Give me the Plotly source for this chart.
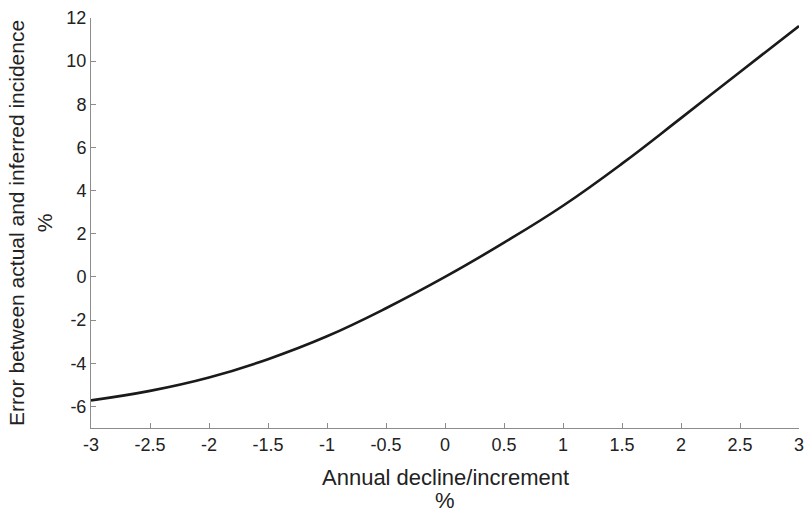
import plotly.graph_objects as go

# Annual decline/increment (%) and the resulting error (%)
rate = [-3.0, -2.5, -2.0, -1.5, -1.0, -0.5, 0.0, 0.5, 1.0, 1.5, 2.0, 2.5, 3.0]
error = [-5.72, -5.28, -4.66, -3.81, -2.75, -1.45, 0.0, 1.59, 3.30, 5.25, 7.36, 9.50, 11.63]

x_ticks = [-3, -2.5, -2, -1.5, -1, -0.5, 0, 0.5, 1, 1.5, 2, 2.5, 3]
x_labels = ["-3", "-2.5", "-2", "-1.5", "-1", "-0.5", "0", "0.5", "1", "1.5", "2", "2.5", "3"]
y_ticks = [-6, -4, -2, 0, 2, 4, 6, 8, 10, 12]
y_labels = ["-6", "-4", "-2", "0", "2", "4", "6", "8", "10", "12"]

x_title_lines = ["Annual decline/increment", "%"]
y_title = "Error between actual and inferred incidence<br>%"

FONT = "Liberation Sans, Arial, sans-serif"
TEXT_COLOR = "#222222"

fig = go.Figure(
    go.Scatter(
        x=rate,
        y=error,
        mode="lines",
        line=dict(color="#1a1a1a", width=2.6, shape="spline", smoothing=1.2),
        hoverinfo="x+y",
    )
)

axis_common = dict(
    showgrid=False,
    zeroline=False,
    showline=True,
    linecolor="#8c8c8c",
    linewidth=1,
    ticks="inside",
    ticklen=5,
    tickwidth=1,
    tickcolor="#8c8c8c",
    tickfont=dict(family=FONT, size=18, color=TEXT_COLOR),
    mirror=False,
)

fig.update_layout(
    width=810,
    height=512,
    margin=dict(l=91, r=6, t=18, b=84),
    paper_bgcolor="white",
    plot_bgcolor="white",
    showlegend=False,
    xaxis=dict(
        range=[-3, 3],
        tickvals=x_ticks,
        ticktext=x_labels,
        **axis_common,
    ),
    yaxis=dict(
        range=[-7, 12],
        tickvals=y_ticks,
        ticktext=y_labels,
        title=dict(
            text=y_title,
            font=dict(family=FONT, size=21, color=TEXT_COLOR),
            standoff=8,
        ),
        **axis_common,
    ),
)

# Two-line x-axis title, placed line by line for tighter spacing
for line_text, shift in zip(x_title_lines, [-49, -72]):
    fig.add_annotation(
        text=line_text,
        xref="paper",
        yref="paper",
        x=0.5,
        y=0,
        xanchor="center",
        yanchor="middle",
        yshift=shift,
        showarrow=False,
        font=dict(family=FONT, size=22, color=TEXT_COLOR),
    )

fig.write_html("out.html")
